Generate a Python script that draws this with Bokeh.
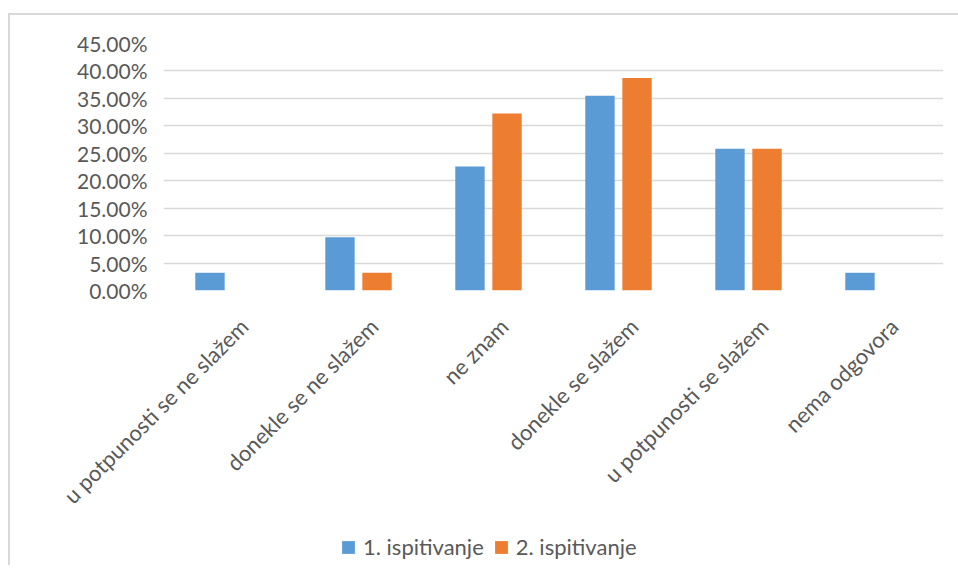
from bokeh.plotting import figure
from bokeh.layouts import column
from bokeh.models import (ColumnDataSource, Range1d, FixedTicker, NumeralTickFormatter,
                          Legend, LegendItem, LinearAxis)
from bokeh.transform import dodge
from bokeh.embed import file_html
from bokeh.resources import INLINE
import math

categories = ["u potpunosti se ne slažem", "donekle se ne slažem", "ne znam",
              "donekle se slažem", "u potpunosti se slažem", "nema odgovora"]
series_names = ["1. ispitivanje", "2. ispitivanje"]
first = [0.0323, 0.0968, 0.2258, 0.3548, 0.2581, 0.0323]
second = [0.0, 0.0323, 0.3226, 0.3871, 0.2581, 0.0]
y_ticks = [0.0, 0.05, 0.10, 0.15, 0.20, 0.25, 0.30, 0.35, 0.40, 0.45]

BLUE = "#5B9BD5"
ORANGE = "#ED7D31"
TEXT = "#595959"
GRID = "#D9D9D9"
FONT = "Lato"

n = len(categories)
pos = [i + 0.5 for i in range(n)]  # category slot centres
src = ColumnDataSource(dict(x=pos, cat=categories, a=first, b=second))

label_shift = 0.12  # label anchor shift (in category widths) like the original layout

p = figure(width=948, height=506, output_backend="svg", toolbar_location=None,
           x_range=Range1d(0, n), y_range=Range1d(0, 0.45),
           min_border_left=153, min_border_right=15, min_border_top=28, min_border_bottom=231)
p.outline_line_color = None
p.background_fill_color = "white"
p.border_fill_color = "white"

r1 = p.vbar(x=dodge("x", -0.1425), top="a", width=0.226, source=src,
            fill_color=BLUE, line_color=None)
r2 = p.vbar(x=dodge("x", 0.1425), top="b", width=0.226, source=src,
            fill_color=ORANGE, line_color=None)

p.xaxis.visible = False
p.xgrid.grid_line_color = None
p.ygrid.grid_line_color = GRID
p.ygrid.grid_line_width = 1.3

ya = p.yaxis[0]
ya.ticker = FixedTicker(ticks=y_ticks)
ya.formatter = NumeralTickFormatter(format="0.00%")
ya.axis_line_color = None
ya.major_tick_line_color = None
ya.minor_tick_line_color = None
ya.major_label_text_font = FONT
ya.major_label_text_font_size = "21px"
ya.major_label_text_color = TEXT
ya.major_label_standoff = 10

# category label axis: same slot positions, anchored slightly right as in the original
p.extra_x_ranges = {"labels": Range1d(-label_shift, n - label_shift)}
lab_axis = LinearAxis(x_range_name="labels", ticker=FixedTicker(ticks=pos),
                      major_label_overrides={t: c for t, c in zip(pos, categories)})
lab_axis.axis_line_color = None
lab_axis.major_tick_line_color = None
lab_axis.minor_tick_line_color = None
lab_axis.major_label_orientation = math.pi / 4
lab_axis.major_label_standoff = 26
lab_axis.major_label_text_font = FONT
lab_axis.major_label_text_font_size = "22px"
lab_axis.major_label_text_color = TEXT
p.add_layout(lab_axis, "below")

# legend strip (proxy glyphs carry the series colours)
q = figure(width=948, height=44, output_backend="svg", toolbar_location=None,
           x_range=Range1d(0, 1), y_range=Range1d(0, 1),
           min_border_left=0, min_border_right=0, min_border_top=0, min_border_bottom=0)
q.axis.visible = False
q.grid.grid_line_color = None
q.outline_line_color = None
q.border_fill_color = "white"
k1 = q.vbar(x=[0.5], top=[0], width=0.01, fill_color=BLUE, line_color=None)
k2 = q.vbar(x=[0.5], top=[0], width=0.01, fill_color=ORANGE, line_color=None)
legend = Legend(items=[LegendItem(label=series_names[0], renderers=[k1]),
                       LegendItem(label=series_names[1], renderers=[k2])],
                orientation="horizontal", location=(177, 5),
                glyph_width=16, glyph_height=16, label_height=16,
                label_standoff=7, spacing=9, padding=0, margin=0,
                label_text_font=FONT, label_text_font_size="22px", label_text_color=TEXT,
                border_line_color=None, background_fill_alpha=0)
q.add_layout(legend, "center")

layout = column(p, q, spacing=0)
layout.margin = (13, 0, 0, 8)
layout.styles = {"border-left": "2px solid #D9D9D9", "border-top": "2px solid #D9D9D9"}

open("out.html", "w").write(file_html(layout, INLINE))
